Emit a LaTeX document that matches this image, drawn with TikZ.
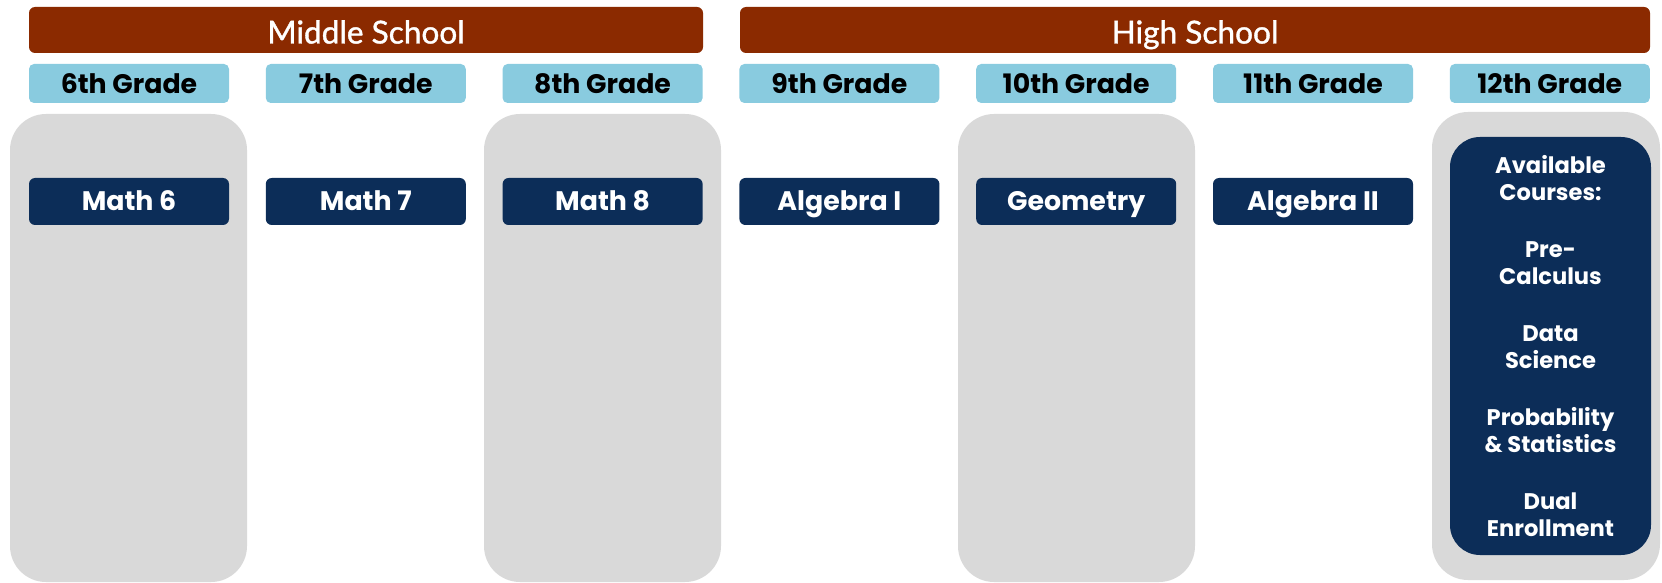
\documentclass[tikz,border=0pt]{standalone}
\usepackage{fontspec}
\newfontfamily\lato{Lato}[FakeBold=1.2]
\newfontfamily\pop{Poppins}
\definecolor{hsbrown}{RGB}{139,42,0}
\definecolor{gblue}{RGB}{137,203,223}
\definecolor{navy}{RGB}{12,45,88}
\definecolor{pgrey}{RGB}{217,217,217}
\begin{document}
\begin{tikzpicture}[x=0.5pt,y=-0.5pt,
  header/.style={fill=hsbrown, rounded corners=3pt, minimum height=23pt, text=white, inner sep=0pt, text height=13.5pt, text depth=0pt, font=\lato\fontsize{15.8}{18}\selectfont},
  grade/.style={fill=gblue, rounded corners=2.5pt, minimum width=100pt, minimum height=19.5pt, inner sep=0pt, text=black, font=\pop\bfseries\fontsize{13.4}{15}\selectfont},
  course/.style={fill=navy, rounded corners=3pt, minimum width=100pt, minimum height=23.5pt, inner sep=0pt, text height=9.4pt, text depth=0pt, text=white, font=\pop\bfseries\fontsize{13.4}{15}\selectfont},
  panel/.style={fill=pgrey, rounded corners=18pt, minimum width=118.5pt, minimum height=234pt, inner sep=0pt},
  listbox/.style={fill=navy, rounded corners=15pt, minimum width=100.5pt, minimum height=209pt, inner sep=0pt, text=white, align=center, font=\pop\bfseries\fontsize{11.3}{13.75}\selectfont}
]
\useasboundingbox (0,0) rectangle (1662,583);
% grey panels
\node[panel] (p6) at (128.5,348) {};
\node[panel] (p8) at (602.5,348) {};
\node[panel] (p10) at (1076.5,348) {};
\node[panel, minimum width=114pt] (p12) at (1546,346) {};
% headers
\node[header, minimum width=337pt] (ms) at (366,30) {Middle School};
\node[header, minimum width=455pt] (hs) at (1195,30) {High School};
% grades
\node[grade] (g6) at (129,83.5) {6th Grade};
\node[grade] (g7) at (365.8,83.5) {7th Grade};
\node[grade] (g8) at (602.6,83.5) {8th Grade};
\node[grade] (g9) at (839.4,83.5) {9th Grade};
\node[grade] (g10) at (1076.2,83.5) {10th Grade};
\node[grade] (g11) at (1313,83.5) {11th Grade};
\node[grade] (g12) at (1549.8,83.5) {12th Grade};
% courses
\node[course] (c6) at (129,201.5) {Math 6};
\node[course] (c7) at (365.8,201.5) {Math 7};
\node[course] (c8) at (602.6,201.5) {Math 8};
\node[course] (c9) at (839.4,201.5) {Algebra I};
\node[course] (c10) at (1076.2,201.5) {Geometry};
\node[course] (c11) at (1313,201.5) {Algebra II};
\node[listbox] (c12) at (1550.5,346) {Available\\Courses:\\[14.5pt]Pre-\\Calculus\\[14.5pt]Data\\Science\\[14.5pt]Probability\\\&~Statistics\\[14.5pt]Dual\\Enrollment};
\end{tikzpicture}
\end{document}
